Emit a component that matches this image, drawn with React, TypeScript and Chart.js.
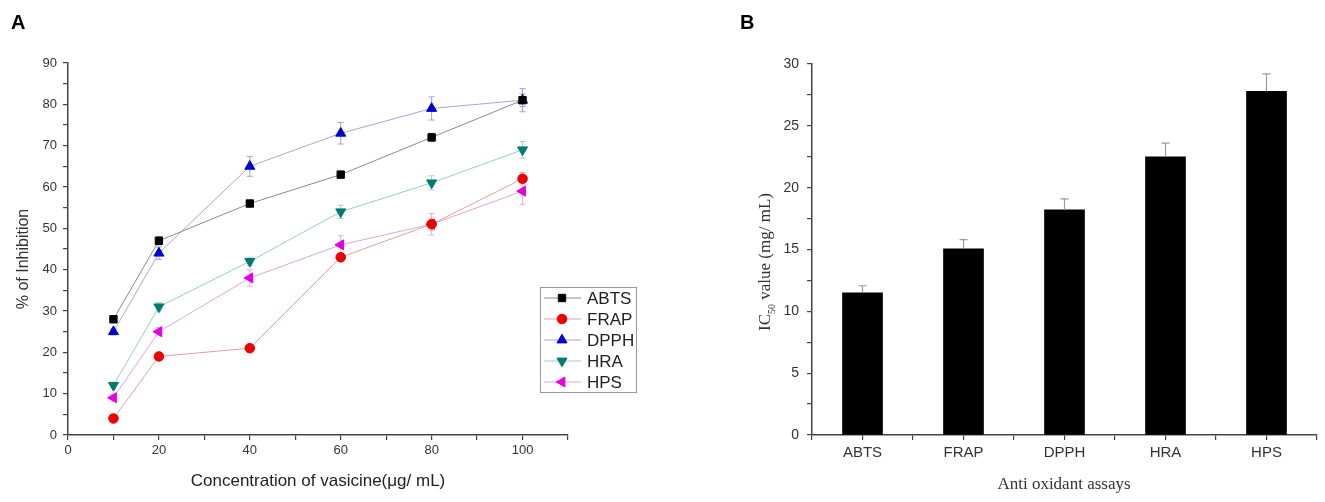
import { useEffect, useRef } from "react";
import { Chart, registerables } from "chart.js";
import { drawPoint } from "chart.js/helpers";

Chart.register(...registerables);

// panel A: % inhibition vs concentration
const concentrations = [10, 20, 40, 60, 80, 100];
const abts = [28, 47, 56, 63, 72, 81];
const frap = [4, 19, 21, 43, 51, 62];
const dpph = [25, 44, 65, 73, 79, 81];
const hra = [12, 31, 42, 54, 61, 69];
const hps = [9, 25, 38, 46, 51, 59];

const abtsErr = [0.8, 1, 0.8, 0.8, 1, 1.5];
const frapErr = [0.5, 0.5, 0.5, 0.8, 1.5, 1.5];
const dpphErr = [0.8, 1.5, 2.4, 2.6, 2.8, 2.8];
const hraErr = [0.8, 1, 1, 1.6, 1.7, 2];
const hpsErr = [0.8, 1, 2, 2.2, 2.6, 3.2];

// panel B: IC50 per assay
const assays = ["ABTS", "FRAP", "DPPH", "HRA", "HPS"];
const ic50 = [11.5, 15.05, 18.2, 22.5, 27.8];
const ic50Err = [0.57, 0.75, 0.9, 1.1, 1.4];

const SANS = "'Liberation Sans', Arial, sans-serif";
const SERIF = "'Liberation Serif', 'Times New Roman', serif";

const SERIES = [
  { label: "ABTS", data: abts, err: abtsErr, color: "#000000", line: "#8a8a8a", errColor: "#9a9a9a", style: "rect", rot: 0, r: 5.2 },
  { label: "FRAP", data: frap, err: frapErr, color: "#ee0000", line: "#d9a3a3", errColor: "#e0b0b0", style: "circle", rot: 0, r: 4.8 },
  { label: "DPPH", data: dpph, err: dpphErr, color: "#0000cc", line: "#a6a6d6", errColor: "#a0a0d8", style: "triangle", rot: 0, r: 5.8 },
  { label: "HRA", data: hra, err: hraErr, color: "#007a72", line: "#9ccac6", errColor: "#a8d0cc", style: "triangle", rot: 180, r: 5.8 },
  { label: "HPS", data: hps, err: hpsErr, color: "#e000e0", line: "#dda6dd", errColor: "#e0b0e0", style: "triangle", rot: -90, r: 5.8 },
];

const fixedY = (w: number) => (s: any) => { s.width = w; };
const fixedX = (h: number) => (s: any) => { s.height = h; };

const lineErrors = {
  id: "lineErrors",
  beforeDatasetsDraw(chart: any) {
    const { ctx } = chart;
    const y = chart.scales.y;
    ctx.save();
    chart.data.datasets.forEach((ds: any, i: number) => {
      const meta = chart.getDatasetMeta(i);
      ctx.strokeStyle = ds.errColor;
      ctx.lineWidth = 1;
      meta.data.forEach((pt: any, j: number) => {
        const v = ds.data[j].y;
        const e = ds.errors[j];
        const t = y.getPixelForValue(v + e);
        const b = y.getPixelForValue(v - e);
        ctx.beginPath();
        ctx.moveTo(pt.x, t); ctx.lineTo(pt.x, b);
        ctx.moveTo(pt.x - 3, t); ctx.lineTo(pt.x + 3, t);
        ctx.moveTo(pt.x - 3, b); ctx.lineTo(pt.x + 3, b);
        ctx.stroke();
      });
    });
    ctx.restore();
  },
};

const boxLegend = {
  id: "boxLegend",
  afterDraw(chart: any) {
    const { ctx } = chart;
    ctx.save();
    ctx.strokeStyle = "#9a9a9a";
    ctx.lineWidth = 1;
    ctx.strokeRect(540.5, 287.5, 96, 105);
    SERIES.forEach((s, i) => {
      const yy = 298 + i * 21;
      ctx.strokeStyle = s.line;
      ctx.beginPath();
      ctx.moveTo(544, yy); ctx.lineTo(581, yy);
      ctx.stroke();
      ctx.fillStyle = s.color;
      ctx.strokeStyle = s.color;
      drawPoint(ctx, { pointStyle: s.style, rotation: s.rot, radius: s.r, borderWidth: 1 }, 562, yy);
      ctx.fillStyle = "#222";
      ctx.font = `17px ${SANS}`;
      ctx.textBaseline = "middle";
      ctx.fillText(s.label, 587, yy + 1);
    });
    ctx.restore();
  },
};

const barErrors = {
  id: "barErrors",
  afterDatasetsDraw(chart: any) {
    const { ctx } = chart;
    const y = chart.scales.y;
    const meta = chart.getDatasetMeta(0);
    ctx.save();
    ctx.strokeStyle = "#9a9a9a";
    ctx.lineWidth = 1.2;
    meta.data.forEach((bar: any, j: number) => {
      const t = y.getPixelForValue(ic50[j] + ic50Err[j]);
      ctx.beginPath();
      ctx.moveTo(bar.x, bar.y); ctx.lineTo(bar.x, t);
      ctx.moveTo(bar.x - 4, t); ctx.lineTo(bar.x + 4, t);
      ctx.stroke();
    });
    ctx.restore();
  },
};

function axis(extra: any) {
  return {
    border: { display: true, color: "#444", width: 1.5 },
    grid: { drawOnChartArea: false, drawTicks: true, tickLength: 5, color: "#444", lineWidth: 1.2 },
    ...extra,
  };
}

function InhibitionChart() {
  const ref = useRef<HTMLCanvasElement>(null);
  useEffect(() => {
    if (!ref.current) return;
    const chart = new Chart(ref.current, {
      type: "line",
      data: {
        datasets: SERIES.map((s) => ({
          label: s.label,
          data: concentrations.map((c, i) => ({ x: c, y: s.data[i] })),
          errors: s.err,
          errColor: s.errColor,
          borderColor: s.line,
          borderWidth: 1,
          backgroundColor: s.color,
          pointBackgroundColor: s.color,
          pointBorderColor: s.color,
          pointBorderWidth: 1,
          pointStyle: s.style,
          pointRotation: s.rot,
          pointRadius: s.r,
          tension: 0,
        })) as any,
      },
      options: {
        animation: false,
        responsive: false,
        events: [],
        layout: { padding: { top: 63, right: 92, left: 0, bottom: 0 } },
        plugins: { legend: { display: false }, tooltip: { enabled: false } },
        scales: {
          x: axis({
            type: "linear",
            min: 0,
            max: 110,
            afterFit: fixedX(67),
            ticks: {
              stepSize: 10,
              autoSkip: false,
              maxRotation: 0,
              padding: 3,
              color: "#333",
              font: { family: SANS, size: 13 },
              callback: (v: any) => (v % 20 === 0 && v <= 100 ? v : ""),
            },
          }),
          y: axis({
            min: 0,
            max: 90,
            afterFit: fixedY(68),
            ticks: {
              stepSize: 5,
              autoSkip: false,
              padding: 6,
              color: "#333",
              font: { family: SANS, size: 13 },
              callback: (v: any) => (v % 10 === 0 ? v : ""),
            },
          }),
        },
      },
      plugins: [lineErrors, boxLegend],
    });
    return () => chart.destroy();
  }, []);
  return <canvas ref={ref} width={660} height={502} style={{ position: "absolute", left: 0, top: 0 }} />;
}

function Ic50Chart() {
  const ref = useRef<HTMLCanvasElement>(null);
  useEffect(() => {
    if (!ref.current) return;
    const chart = new Chart(ref.current, {
      type: "bar",
      data: {
        datasets: [
          {
            label: "IC50",
            data: assays.map((_, i) => ({ x: i + 1, y: ic50[i] })),
            backgroundColor: "#000",
            borderWidth: 0,
            barThickness: 40,
          },
        ],
      },
      options: {
        animation: false,
        responsive: false,
        events: [],
        layout: { padding: { top: 64, right: 8, left: 0, bottom: 0 } },
        plugins: { legend: { display: false }, tooltip: { enabled: false } },
        scales: {
          x: axis({
            type: "linear",
            min: 0.5,
            max: 5.5,
            offset: false,
            afterFit: fixedX(67),
            grid: { offset: false, drawOnChartArea: false, drawTicks: true, tickLength: 5, color: "#444", lineWidth: 1.2 },
            ticks: {
              stepSize: 0.5,
              autoSkip: false,
              maxRotation: 0,
              padding: 4,
              color: "#333",
              font: { family: SANS, size: 15 },
              callback: (v: any) => (Number.isInteger(v) ? assays[v - 1] ?? "" : ""),
            },
          }),
          y: axis({
            min: 0,
            max: 30,
            afterFit: fixedY(112),
            ticks: {
              stepSize: 2.5,
              autoSkip: false,
              padding: 8,
              color: "#333",
              font: { family: SANS, size: 14 },
              callback: (v: any) => (v % 5 === 0 ? v : ""),
            },
          }),
        },
      },
      plugins: [barErrors],
    });
    return () => chart.destroy();
  }, []);
  return <canvas ref={ref} width={625} height={502} style={{ position: "absolute", left: 700, top: 0 }} />;
}

const rotated = (cx: number, cy: number): any => ({
  position: "absolute",
  left: cx,
  top: cy,
  transform: "translate(-50%, -50%) rotate(-90deg)",
  whiteSpace: "nowrap",
  lineHeight: 1,
});

const centered = (cx: number, cy: number): any => ({
  position: "absolute",
  left: cx,
  top: cy,
  transform: "translate(-50%, -50%)",
  whiteSpace: "nowrap",
  lineHeight: 1,
});

export default function App() {
  return (
    <div style={{ position: "fixed", left: 0, top: 0, width: 1325, height: 502, background: "#fff", overflow: "hidden" }}>
      <InhibitionChart />
      <Ic50Chart />
      <div style={{ position: "absolute", left: 11, top: 12, font: `bold 20px ${SANS}`, lineHeight: 1 }}>A</div>
      <div style={{ position: "absolute", left: 740, top: 12, font: `bold 20px ${SANS}`, lineHeight: 1 }}>B</div>
      <div style={{ ...rotated(23, 259), font: `16px ${SANS}`, color: "#333" }}>% of Inhibition</div>
      <div style={{ ...centered(318, 481), font: `17px ${SANS}`, color: "#222" }}>Concentration of vasicine(μg/ mL)</div>
      <div style={{ ...rotated(766, 262), font: `17px ${SERIF}`, color: "#333" }}>
        IC<sub style={{ fontSize: 10 }}>50</sub> value (mg/ mL)
      </div>
      <div style={{ ...centered(1064, 484), font: `17px ${SERIF}`, color: "#333" }}>Anti oxidant assays</div>
    </div>
  );
}
